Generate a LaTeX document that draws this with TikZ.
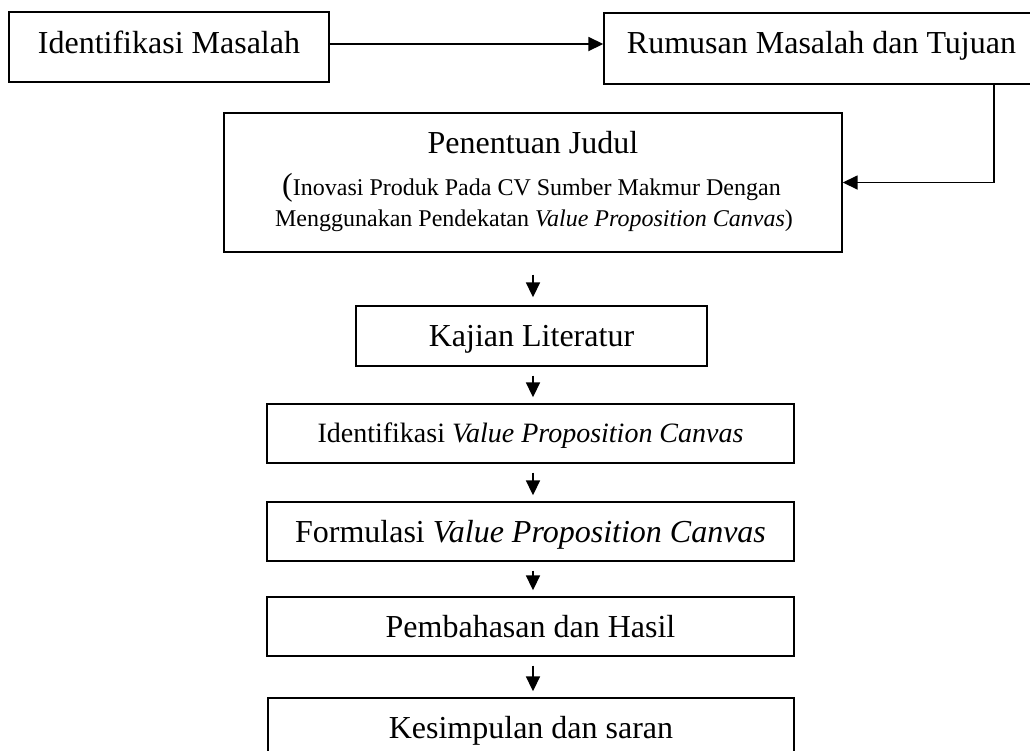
\documentclass[tikz,border=0pt]{standalone}
\usepackage{fontspec}
\setmainfont{Liberation Serif}
\usetikzlibrary{arrows.meta}

\begin{document}
\begin{tikzpicture}[x=0.5pt,y=-0.5pt]
    \useasboundingbox (0,0) rectangle (1030,751);
    \clip (0,0) rectangle (1030,751);

    \begin{scope}[every node/.style={rectangle,draw=black,line width=0.7pt,inner sep=0pt,
        font=\fontsize{16}{19}\selectfont,text height=10.6pt,text depth=0pt}]
      \node[minimum width=160pt,minimum height=35pt,text depth=4.5pt] (idmasalah) at (169,47) {Identifikasi Masalah};
      \node[minimum width=217.5pt,minimum height=35.5pt,text depth=6pt] (rumusan) at (821.5,48.5) {Rumusan Masalah dan Tujuan};
      \node[minimum width=309pt,minimum height=69.5pt] (judul) at (533,182.5) {};
      \node[minimum width=175.5pt,minimum height=30pt] (kajian) at (531.5,336) {Kajian Literatur};
      \node[minimum width=263.5pt,minimum height=29.5pt,font=\fontsize{14}{17}\selectfont,text height=9.3pt] (idvpc) at (530.5,433.5) {Identifikasi \textit{Value Proposition Canvas}};
      \node[minimum width=263.5pt,minimum height=29.5pt] (formulasi) at (530.5,531.5) {Formulasi \textit{Value Proposition Canvas}};
      \node[minimum width=263.5pt,minimum height=29.5pt] (pembahasan) at (530.5,626.5) {Pembahasan dan Hasil};
      \node[minimum width=263pt,minimum height=29.5pt] (kesimpulan) at (531,727.5) {Kesimpulan dan saran};
    \end{scope}

    % isi kotak judul
    \begin{scope}[every node/.style={anchor=base,inner sep=0pt}]
      \node[font=\fontsize{16}{19}\selectfont] (judulnama) at (533,153) {Penentuan Judul};
      \node[font=\fontsize{12}{14}\selectfont] (judulbaris1) at (531.5,195) {{\fontsize{16}{19}\selectfont(}Inovasi Produk Pada CV Sumber Makmur Dengan};
      \node[font=\fontsize{12}{14}\selectfont] (judulbaris2) at (534,226) {Menggunakan Pendekatan \textit{Value Proposition Canvas})};
    \end{scope}

    \coordinate (keluar) at ([yshift=1.5pt]idmasalah.east);
    \coordinate (belok) at (994,182.5);

    \begin{scope}[>={Triangle[length=7.5pt,width=7pt]},
        every edge/.style={draw=black,line width=0.9pt,->,shorten <=4.5pt,shorten >=3pt}]
      \path (keluar) edge[shorten <=0pt,shorten >=0pt] (keluar -| rumusan.west);
      \draw[line width=0.8pt,->] (rumusan.south -| belok) -- (belok) -- (judul.east);
      \path (judul.south) edge[shorten <=11pt,shorten >=4pt] (judul.south |- kajian.north);
      \foreach \a/\b in {kajian/idvpc,idvpc/formulasi,formulasi/pembahasan,pembahasan/kesimpulan}
        \path (judul.south |- \a.south) edge (judul.south |- \b.north);
    \end{scope}
\end{tikzpicture}
\end{document}
